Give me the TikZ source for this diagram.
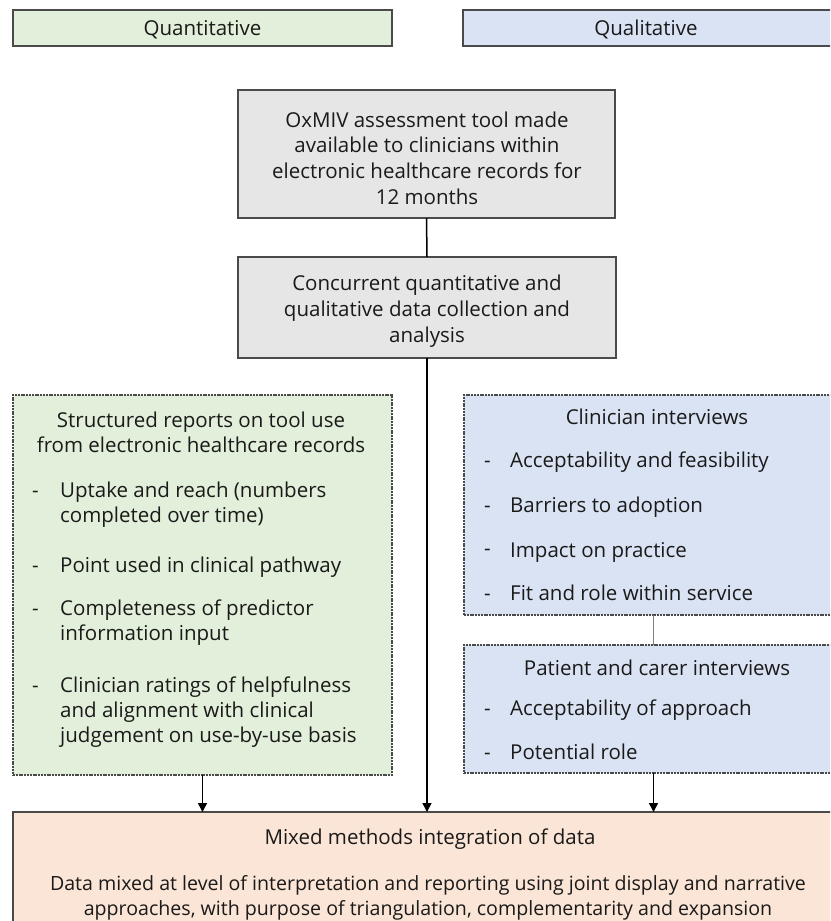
\documentclass[tikz,border=0pt]{standalone}
\usepackage{fontspec}
\setmainfont{Open Sans}
\usetikzlibrary{arrows.meta}
\definecolor{qgreen}{HTML}{E2EFDA}
\definecolor{qblue}{HTML}{DAE3F3}
\definecolor{qgray}{HTML}{E7E6E6}
\definecolor{qpeach}{HTML}{FBE5D6}
\definecolor{edgegray}{HTML}{4A4A4A}
\definecolor{txtcol}{HTML}{1A1A1A}
\begin{document}
\begin{tikzpicture}[x=1pt,y=-1pt,
  box/.style={anchor=north west, inner sep=0pt, outer sep=0pt},
  solidbox/.style={box, draw=edgegray, line width=1.6pt},
  dashbox/.style={box, draw=edgegray, line width=1.4pt, dash pattern=on 2pt off 0.8pt},
  ln/.style={inner sep=0pt, text=txtcol, font=\fontsize{20.5}{25}\selectfont},
  sm/.style={font=\fontsize{19.6}{25}\selectfont},
  cl/.style={ln, anchor=base},
  ll/.style={ln, anchor=base west},
  conn/.style={draw=black, line width=1.5pt},
  arr/.style={conn, -{Triangle[length=9pt,width=9pt]}},
  thin/.style={draw=gray, line width=1pt}
]
\clip (0,0) rectangle (830,921);
\fill[white] (0,0) rectangle (830,921);

% header boxes
\node[solidbox, fill=qgreen, minimum width=379pt, minimum height=36pt] (quant) at (13,10) {};
\node[solidbox, fill=qblue, minimum width=380pt, minimum height=36pt] (qual) at (463,10) {};
\node[cl] (quantt) at (202.5,35) {Quantitative};
\node[cl] (qualt) at (646,35) {Qualitative};

% tool box
\node[solidbox, fill=qgray, minimum width=377pt, minimum height=128pt] (tool) at (238,90) {};
\node[cl] (t1) at (427,127) {OxMIV assessment tool made};
\node[cl] (t2) at (427,152.5) {available to clinicians within};
\node[cl] (t3) at (427,178) {electronic healthcare records for};
\node[cl] (t4) at (427,204) {12 months};

% concurrent box
\node[solidbox, fill=qgray, minimum width=378pt, minimum height=101pt] (conc) at (238,257) {};
\node[cl] (c1) at (427,290) {Concurrent quantitative and};
\node[cl] (c2) at (427,316) {qualitative data collection and};
\node[cl] (c3) at (427,342) {analysis};

% structured reports box
\node[dashbox, fill=qgreen, minimum width=379pt, minimum height=380pt] (struct) at (13,395) {};
\node[cl] (s0a) at (201,427) {Structured reports on tool use};
\node[cl] (s0b) at (201,452) {from electronic healthcare records};
\node[ll] (d1) at (32,497) {-};
\node[ll] (s1a) at (60,497) {Uptake and reach (numbers};
\node[ll] (s1b) at (60,522) {completed over time)};
\node[ll] (d2) at (32,572) {-};
\node[ll] (s2a) at (60,572) {Point used in clinical pathway};
\node[ll] (d3) at (32,615) {-};
\node[ll] (s3a) at (60,615) {Completeness of predictor};
\node[ll] (s3b) at (60,640) {information input};
\node[ll] (d4) at (32,692) {-};
\node[ll] (s4a) at (60,692) {Clinician ratings of helpfulness};
\node[ll] (s4b) at (60,717) {and alignment with clinical};
\node[ll] (s4c) at (60,742) {judgement on use-by-use basis};

% clinician interviews box
\node[dashbox, fill=qblue, minimum width=379pt, minimum height=220pt] (clin) at (464,395) {};
\node[cl] (k0) at (657,424) {Clinician interviews};
\node[ll] (e1) at (484,467) {-};
\node[ll] (k1) at (510,467) {Acceptability and feasibility};
\node[ll] (e2) at (484,512) {-};
\node[ll] (k2) at (510,512) {Barriers to adoption};
\node[ll] (e3) at (484,555) {-};
\node[ll] (k3) at (510,557) {Impact on practice};
\node[ll] (e4) at (484,600) {-};
\node[ll] (k4) at (510,600) {Fit and role within service};

% patient and carer interviews box
\node[dashbox, fill=qblue, minimum width=379pt, minimum height=128pt] (pat) at (464,645) {};
\node[cl] (p0) at (657,675) {Patient and carer interviews};
\node[ll] (f1) at (484,715) {-};
\node[ll] (p1) at (510,715) {Acceptability of approach};
\node[ll] (f2) at (484,759) {-};
\node[ll] (p2) at (510,759) {Potential role};

% mixed methods box
\node[solidbox, fill=qpeach, minimum width=830pt, minimum height=140pt] (mixed) at (13,812) {};
\node[cl] (m0) at (430,844) {Mixed methods integration of data};
\node[cl, sm] (m1) at (428,890) {Data mixed at level of interpretation and reporting using joint display and narrative};
\node[cl, sm] (m2) at (428,915) {approaches, with purpose of triangulation, complementarity and expansion};

% connectors
\draw[conn] (tool.south) -- (conc.north);
\draw[arr] (conc.south) -- (conc.south |- mixed.north);
\draw[arr] (struct.south) -- (struct.south |- mixed.north);
\draw[arr] (pat.south) -- (pat.south |- mixed.north);
\draw[thin] (clin.south) -- (pat.north);
\end{tikzpicture}
\end{document}
